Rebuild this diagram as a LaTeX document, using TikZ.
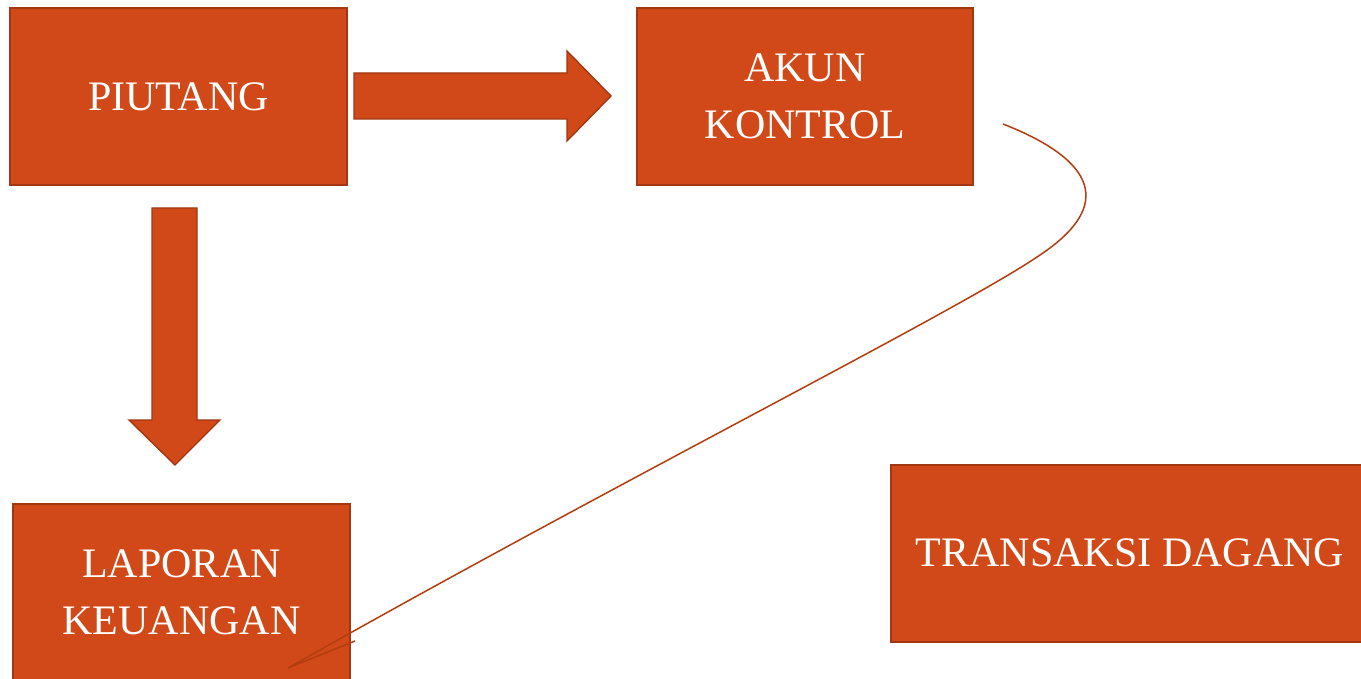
\documentclass[tikz,border=0pt]{standalone}
\usepackage{fontspec}
\setmainfont{Liberation Serif}
\definecolor{boxfill}{HTML}{D14918}
\definecolor{boxline}{HTML}{A13812}
\definecolor{curvecol}{HTML}{B23E10}
\begin{document}
\begin{tikzpicture}[x=1pt,y=-1pt,
  box/.style={draw=boxline,fill=boxfill,line width=1.6pt,text=white,
    font=\fontsize{42}{57}\selectfont,align=center,inner sep=0pt},
  boxtext/.style={text=white,font=\fontsize{42}{57}\selectfont,align=center},
  blockarrow/.style={draw=boxline,fill=boxfill,line width=1.4pt,line join=miter},
  link/.style={draw=curvecol,line width=1.5pt}]
\clip (0,0) rectangle (1361,679);
\fill[white] (0,0) rectangle (1361,679);
\node[box,minimum width=337pt,minimum height=177pt] (piu) at (178.5,96.5) {PIUTANG};
\node[box,minimum width=336pt,minimum height=177pt] (akun) at (805,96.5) {AKUN\\KONTROL};
\node[box,minimum width=337pt,minimum height=185pt] (lap) at (181.5,596.5) {};
\node[boxtext] (laptext) at (181.5,592) {LAPORAN\\KEUANGAN};
\node[box,minimum width=490pt,minimum height=177pt,anchor=north west] (trans) at (890,464) {};
\node[boxtext] (transtext) at (1130,553) {TRANSAKSI DAGANG};
% block arrows
\draw[blockarrow] (354,73) -- (567,73) -- (567,51) -- (611,96) -- (567,141) -- (567,119) -- (354,119) -- cycle;
\draw[blockarrow] (152,208) -- (197,208) -- (197,420) -- (220,420) -- (175,465) -- (129,420) -- (152,420) -- cycle;
% curve
\coordinate (cs) at (1003,124);
\coordinate (ce) at (288,668);
\coordinate (cb) at (355,641);
\draw[link,line join=miter] (cs) .. controls (1095,160) and (1115,205) .. (1040,255)
  .. controls (960,310) and (620,480) .. (ce) -- (cb);
\end{tikzpicture}
\end{document}
